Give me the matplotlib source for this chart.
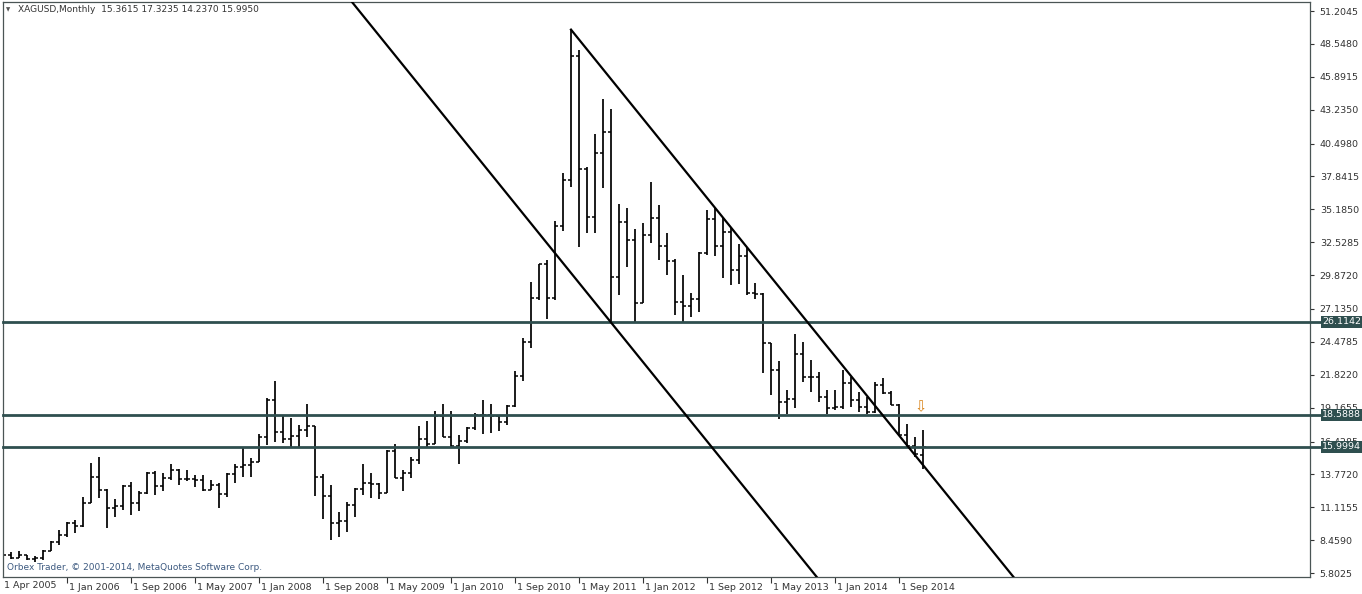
import numpy as np
import pandas as pd
import matplotlib
matplotlib.use('Agg')
import matplotlib.pyplot as plt
from matplotlib.transforms import ScaledTranslation, blended_transform_factory

# monthly XAGUSD bars, Apr 2005 .. Dec 2014
months = pd.date_range('2005-04-01', '2014-12-01', freq='MS')

opens = [7.12, 6.95, 7.26, 7.05, 7.26, 6.90, 7.05, 7.62, 8.33,
         8.85, 9.87, 9.60, 11.49, 13.59, 12.51, 11.03, 11.25, 12.86, 11.44, 12.24, 13.90,
         12.86, 13.45, 14.15, 13.40, 13.40, 13.30, 12.55, 12.90, 12.15, 13.80, 14.40, 14.50,
         14.80, 16.82, 19.80, 17.23, 16.60, 16.87, 17.36, 17.70, 13.53, 12.02, 9.82, 10.00,
         11.30, 12.56, 13.10, 13.00, 12.30, 15.69, 13.50, 13.90, 14.90, 16.60, 16.20, 18.50,
         16.80, 16.07, 16.47, 17.50, 18.60, 18.55, 18.50, 17.98, 19.30, 21.75, 24.50, 28.00,
         30.80, 28.00, 33.80, 37.56, 47.60, 38.45, 34.60, 39.70, 41.40, 29.75, 34.20, 32.70,
         27.65, 33.10, 34.50, 32.20, 31.00, 27.67, 27.40, 27.94, 31.63, 34.37, 32.22, 33.35,
         30.28, 31.41, 28.45, 28.34, 24.36, 22.20, 19.59, 19.86, 23.50, 21.67, 21.67, 20.00,
         19.16, 19.25, 21.18, 19.78, 19.24, 18.79, 20.99, 20.37, 19.40, 16.95, 16.09, 15.3615]
highs = [7.40, 7.45, 7.50, 7.62, 7.30, 7.20, 7.65, 8.40, 9.30,
         9.95, 10.05, 11.97, 14.67, 15.20, 12.60, 11.76, 12.95, 13.15, 12.40, 14.00, 14.05,
         13.90, 14.65, 14.20, 14.10, 13.70, 13.70, 13.35, 13.10, 13.86, 14.60, 16.00, 15.10,
         17.01, 19.92, 21.35, 18.50, 18.30, 17.80, 19.50, 17.72, 13.77, 12.90, 10.76, 11.57,
         12.70, 14.60, 13.85, 13.10, 15.75, 16.20, 14.10, 15.20, 17.70, 18.10, 18.90, 19.48,
         18.90, 16.95, 17.60, 18.75, 19.80, 19.50, 18.60, 19.40, 22.10, 24.80, 29.34, 30.80,
         31.10, 34.24, 38.10, 49.70, 48.06, 38.60, 41.30, 44.10, 43.30, 35.60, 35.30, 33.57,
         34.05, 37.37, 35.50, 33.30, 31.20, 29.88, 28.45, 31.76, 35.13, 35.32, 34.46, 33.65,
         32.38, 32.03, 29.26, 28.40, 24.40, 22.93, 20.59, 25.11, 24.44, 23.01, 22.02, 20.59,
         20.60, 22.20, 21.67, 20.40, 20.05, 21.26, 21.53, 20.54, 19.46, 17.84, 16.82, 17.3235]
lows = [6.90, 6.90, 6.91, 7.00, 6.85, 6.68, 6.88, 7.60, 8.10,
        8.75, 9.01, 9.55, 11.44, 11.84, 9.42, 10.36, 10.90, 10.50, 10.80, 12.20, 12.11,
        12.40, 13.30, 12.90, 13.25, 12.75, 12.45, 12.50, 11.05, 11.97, 13.05, 13.55, 13.60,
        14.78, 16.15, 16.40, 16.28, 16.00, 16.00, 16.76, 12.05, 10.17, 8.47, 8.74, 9.15,
        10.30, 12.10, 11.90, 11.76, 12.25, 13.50, 12.40, 13.45, 14.60, 15.90, 16.20, 16.80,
        16.00, 14.60, 16.28, 17.40, 17.00, 17.10, 17.30, 17.75, 19.20, 21.30, 24.00, 27.90,
        26.30, 27.90, 33.46, 37.02, 32.17, 33.25, 33.30, 36.90, 26.10, 28.30, 30.56, 26.10,
        27.60, 32.50, 31.10, 29.90, 26.65, 26.11, 26.46, 26.92, 31.50, 31.44, 29.60, 29.07,
        29.13, 28.27, 27.91, 21.99, 20.19, 18.22, 18.65, 19.11, 21.21, 20.46, 19.59, 18.62,
        18.98, 19.03, 19.19, 18.84, 18.65, 18.75, 20.27, 19.38, 16.87, 16.01, 15.20, 14.2370]
closes = [6.95, 7.26, 7.05, 7.26, 6.90, 7.05, 7.60, 8.33, 8.85,
          9.87, 9.60, 11.49, 13.59, 12.51, 11.03, 11.25, 12.86, 11.44, 12.24, 13.90, 12.86,
          13.45, 14.15, 13.40, 13.40, 13.30, 12.55, 12.90, 12.15, 13.80, 14.40, 14.50, 14.80,
          16.82, 19.80, 17.23, 16.60, 16.87, 17.36, 17.70, 13.53, 12.02, 9.82, 10.00, 11.30,
          12.56, 13.10, 13.00, 12.30, 15.69, 13.50, 13.90, 14.90, 16.60, 16.20, 18.50, 16.80,
          16.07, 16.47, 17.50, 18.60, 18.55, 18.50, 17.98, 19.30, 21.75, 24.50, 28.00, 30.80,
          28.00, 33.80, 37.56, 47.60, 38.45, 34.60, 39.70, 41.40, 29.75, 34.20, 32.70, 27.65,
          33.10, 34.50, 32.20, 31.00, 27.67, 27.40, 27.94, 31.63, 34.37, 32.22, 33.35, 30.28,
          31.41, 28.45, 28.34, 24.36, 22.20, 19.59, 19.86, 23.50, 21.67, 21.67, 20.00, 19.16,
          19.25, 21.18, 19.78, 19.24, 18.79, 20.99, 20.37, 19.40, 16.95, 16.09, 15.42, 15.9950]

# horizontal levels drawn on the chart
levels = [26.1142, 18.5888, 15.9994]

# channel lines: (month, price) anchors
upper_line = [('2011-04-01', 49.70), ('2014-12-01', 14.53)]
lower_line = [('2009-01-01', 51.63), ('2012-01-01', 22.85)]

# price scale labels as shown by the terminal
price_ticks = [5.8025, 8.4590, 11.1155, 13.7720, 16.4285, 19.1655, 21.8220, 24.4785,
               27.1350, 29.8720, 32.5285, 35.1850, 37.8415, 40.4980, 43.2350, 45.8915,
               48.5480, 51.2045]
date_ticks = ['2006-01-01', '2006-09-01', '2007-05-01', '2008-01-01', '2008-09-01',
              '2009-05-01', '2010-01-01', '2010-09-01', '2011-05-01', '2012-01-01',
              '2012-09-01', '2013-05-01', '2014-01-01', '2014-09-01']

arrow_month, arrow_price = '2014-12-01', 19.22

FS = 6.8
W, H = 1362, 594
fig = plt.figure(figsize=(W / 100, H / 100), dpi=100)
ax = fig.add_axes([3 / W, (H - 577) / H, (1310 - 3) / W, (577 - 2) / H])

pos = {m: i for i, m in enumerate(months)}
idx = np.arange(len(months))
def mi(d):
    return pos[pd.Timestamp(d)]

# OHLC bars
bar_col = 'black'
ax.vlines(idx, lows, highs, color=bar_col, lw=1.25)
ax.hlines(opens, idx - 0.42, idx, color=bar_col, lw=1.1)
ax.hlines(closes, idx, idx + 0.42, color=bar_col, lw=1.1)

# horizontal levels, running into the price scale
lvl_col = '#2F4F4F'
tr = blended_transform_factory(ax.transAxes, ax.transData)
for lv in levels:
    ax.plot([0, 1.01], [lv, lv], color=lvl_col, lw=2.0, transform=tr, clip_on=False, zorder=3)
    ax.annotate(f'{lv:.4f}', xy=(1, lv), xycoords=tr, xytext=(12, 0), textcoords='offset pixels',
                ha='left', va='center', fontsize=FS, color='white', zorder=10,
                bbox=dict(boxstyle='square,pad=0.15', fc=lvl_col, ec='none'),
                annotation_clip=False)

# channel lines
for line, start in ((upper_line, True), (lower_line, False)):
    (d0, p0), (d1, p1) = line
    x0, x1 = mi(d0), mi(d1)
    slope = (p1 - p0) / (x1 - x0)
    xa = x0 if start else x0 - 20
    xb = x1 + 40
    ax.plot([xa, xb], [p0 + slope * (xa - x0), p0 + slope * (xb - x0)],
            color='black', lw=1.6, zorder=4)

# arrow object
ax.text(mi(arrow_month) - 0.25, arrow_price, '\u21e9', color='#d9841a', fontsize=10.5,
        ha='center', va='center', zorder=6)

ax.set_xlim(1, 164.375)
ax.set_ylim(5.4857, 51.9315)

# price axis on the right
ax.yaxis.tick_right()
ax.set_yticks(price_ticks)
ax.set_yticklabels([f'{v:.4f}' for v in price_ticks])
ax.tick_params(axis='y', direction='out', length=3, width=0.8, pad=4,
               labelsize=FS, colors='#333333')

# date axis
xt = [mi(d) for d in date_ticks]
ax.set_xticks(xt)
ax.set_xticklabels([f"1 {pd.Timestamp(d).strftime('%b %Y')}" for d in date_ticks], ha='left')
ax.tick_params(axis='x', direction='out', length=4, width=0.8, pad=0.5,
               labelsize=FS, colors='#333333')
shift = ScaledTranslation(2 / 100, 0, fig.dpi_scale_trans)
for lbl in ax.get_xticklabels():
    lbl.set_transform(lbl.get_transform() + shift)
fig.text(4 / W, 1 - 585 / H, f"1 {months[0].strftime('%b %Y')}", fontsize=FS,
         color='#333333', ha='left', va='center')

for s in ax.spines.values():
    s.set_color('#4a5555')
    s.set_linewidth(0.9)

# header and copyright
fig.text(6 / W, 1 - 10 / H, '\u25bc', fontsize=4, color='#555555', ha='left', va='center')
fig.text(18 / W, 1 - 10 / H,
         f'XAGUSD,Monthly  {opens[-1]:.4f} {highs[-1]:.4f} {lows[-1]:.4f} {closes[-1]:.4f}',
         fontsize=FS - 0.3, color='#333333', ha='left', va='center')
fig.text(7 / W, 1 - 568 / H, 'Orbex Trader, \u00a9 2001-2014, MetaQuotes Software Corp.',
         fontsize=FS - 0.3, color='#3d5a80', ha='left', va='center')

fig.savefig('out.png', dpi=100, facecolor='white')
